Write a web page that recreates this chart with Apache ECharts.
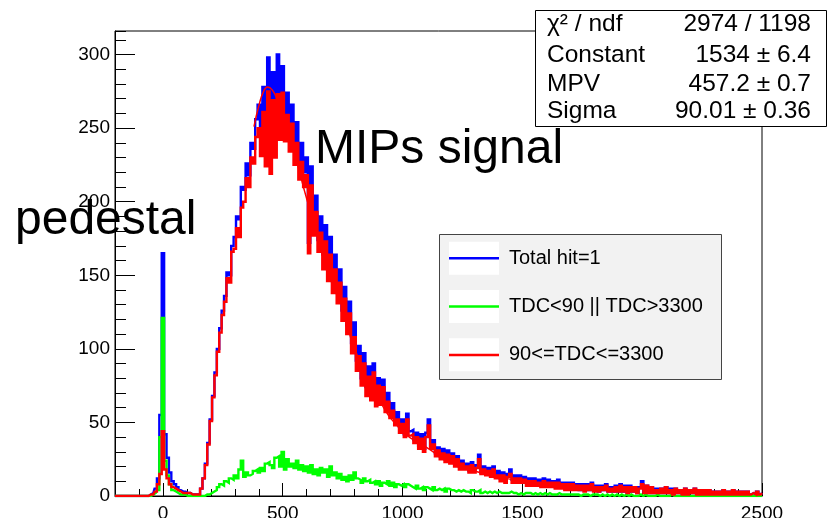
<!DOCTYPE html>
<html><head><meta charset="utf-8">
<script src="https://cdn.jsdelivr.net/npm/echarts@6/dist/echarts.min.js"></script>
<style>html,body{margin:0;padding:0;background:#fff}#c{width:827px;height:518px}</style>
</head><body><div id="c"></div>
<script>
// ---- data (bin centers start at binStart, spaced binWidth) ----
const binStart = -200, binWidth = 10;
const totalHit = [
 0,0,0,0,0,0,0,0,0,0,
 0,0,0,0,0,1,2,5,12,55,
 165,42,26,16,10,8,6,4,3,3,
 2,2,1,1,1,1,5,12,22,36,
 52,68,84,100,114,126,136,152,150,170,
 176,190,188,210,208,226,218,240,236,256,
 266,250,278,246,298,240,288,256,300,262,
 292,252,274,246,266,236,254,226,240,220,
 230,172,224,186,204,174,190,164,184,154,
 176,146,164,138,154,126,142,116,132,104,
 118,92,102,80,97,74,88,70,90,66,
 80,66,79,62,70,57,63,52,57,47,
 52,42,56,44,45,38,43,34,42,32,
 43,52,34,38,29,33,27,32,25,31,
 24,29,22,27,20,24,19,22,17,23,
 18,21,28,16,20,15,19,14,20,13,
 17,12,16,11,15,18,11,14,10,14,
 10,13,9,12,8,12,8,11,7,12,
 7,11,7,10,6,11,6,9,5,9,
 5,9,5,8,4,8,4,8,4,9,
 4,7,3,7,4,8,3,6,3,7,
 3,8,3,7,2,7,3,6,2,6,
 10,3,7,2,6,2,5,2,5,2,
 6,2,5,1,5,2,4,1,5,1,
 4,2,5,1,4,1,4,1,4,1,
 3,1,3,1,4,1,3,1,4,1,
 3,1,3,1,3,1,2,1,3,1,
 2];
const tdcOut = [
 0,0,0,0,0,0,0,0,0,0,
 0,0,0,0,0,0,1,2,4,40,
 121,24,14,8,4,3,2,1,1,1,
 0,0,0,0,0,0,0,0,1,1,
 2,3,4,6,8,7,10,9,12,11,
 14,12,18,24,13,16,14,15,17,18,
 16,19,17,22,23,21,19,26,27,20,
 30,18,25,20,22,19,24,18,21,17,
 20,16,21,15,18,14,19,16,18,13,
 20,14,16,12,15,11,13,10,14,11,
 16,12,11,9,12,10,11,9,10,8,
 10,7,9,8,10,7,9,6,8,7,
 8,6,8,7,6,5,7,5,6,4,
 6,5,4,6,4,5,4,5,3,5,
 4,4,3,4,3,4,3,3,2,4,
 3,3,4,2,3,2,3,2,3,2,
 3,2,2,2,2,3,2,2,1,2,
 1,2,2,2,1,2,1,2,1,2,
 1,2,1,1,1,2,1,1,1,1,
 1,1,1,1,0,1,1,1,0,1,
 1,1,0,1,0,1,0,1,0,1,
 0,1,0,1,0,1,0,0,0,1,
 0,1,0,0,0,0,1,0,0,0,
 0,0,1,0,0,0,0,0,0,0,
 0,0,0,0,0,0,0,0,0,0,
 0,0,0,0,0,0,0,0,0,0,
 0,0,0,0,0,0,0,0,0,0,
 0];
const tdcIn = [
 0,0,0,0,0,0,0,0,0,0,
 0,0,0,0,0,1,1,3,8,15,
 44,18,12,8,6,5,4,3,2,2,
 2,2,1,1,1,1,5,12,21,35,
 51,67,82,98,111,123,132,148,145,166,
 168,182,176,196,200,216,210,230,226,244,
 250,231,261,224,275,219,269,230,273,242,
 274,241,259,234,253,225,240,215,227,210,
 218,165,211,177,193,166,179,154,173,146,
 164,138,154,131,145,119,134,110,124,97,
 108,85,95,75,90,68,81,65,84,61,
 75,62,74,57,64,53,58,48,52,43,
 49,40,52,41,42,36,40,32,39,30,
 40,48,32,35,27,31,25,29,23,28,
 22,27,20,25,18,22,18,20,16,21,
 16,19,25,15,18,14,17,13,18,12,
 14,10,14,9,13,15,9,12,9,12,
 9,11,7,10,7,10,7,9,6,10,
 6,9,6,9,5,9,5,8,4,8,
 4,8,4,7,4,7,3,7,4,8,
 3,6,3,6,4,7,3,5,3,6,
 3,7,3,6,2,6,3,6,2,5,
 8,2,7,2,6,2,4,2,5,2,
 6,2,4,1,5,2,4,1,5,1,
 4,2,5,1,4,1,4,1,4,1,
 3,1,3,1,4,1,3,1,4,1,
 3,1,3,1,3,1,2,1,3,1,
 2];
// Landau fit curve
const fitX = [380,400,420,437,456,475,500,550,600,650,700,750,800,900,1000,1100,1200,1300,1400,1500];
const fitY = [251,265,275,278,276,270,258,232,202,176,152,128,100,66,44,33,23,17,13,10];
const seriesNames = ['Total hit=1', 'TDC<90 || TDC>3300', '90<=TDC<=3300'];
const seriesColors = ['#0000ff', '#00ff00', '#ff0000'];
const xMajorTicks = [0, 500, 1000, 1500, 2000, 2500];
const yMajorTicks = [0, 50, 100, 150, 200, 250, 300];
const statsLabels = ['χ² / ndf', 'Constant', 'MPV', 'Sigma'];
const statsValues = ['2974 / 1198', '1534 ± 6.4', '457.2 ± 0.7', '90.01 ± 0.36'];

// ---- chart ----
const FONT = "'Liberation Sans', Arial, Helvetica, sans-serif";
const toPairs = arr => arr.map((v, i) => [binStart + i * binWidth, v]);
const chart = echarts.init(document.getElementById('c'), null, {renderer: 'canvas'});

function histSeries(idx, values, w) {
  return {
    name: seriesNames[idx], type: 'line', step: 'middle', data: toPairs(values),
    showSymbol: false, symbol: 'none', color: seriesColors[idx],
    lineStyle: {color: seriesColors[idx], width: w, join: 'miter'}, emphasis: {disabled: true},
    clip: true, z: 2
  };
}

const statsRowsY = [24, 55.7, 84.7, 111.7];
const graphics = [
  {type: 'rect', z: 20, shape: {x: 535.5, y: 10.5, width: 291, height: 116},
   style: {fill: '#fff', stroke: '#000', lineWidth: 1}},
  {type: 'rect', z: 1, shape: {x: 439.5, y: 234.5, width: 282, height: 145},
   style: {fill: '#f2f2f2', stroke: '#444', lineWidth: 1}},
  {type: 'text', z: 20, x: 15, y: 220.5,
   style: {text: 'pedestal', font: '48px ' + FONT, fill: '#000', textVerticalAlign: 'middle', verticalAlign: 'middle'}},
  {type: 'text', z: 20, x: 315, y: 150,
   style: {text: 'MIPs signal', font: '48px ' + FONT, fill: '#000', textVerticalAlign: 'middle', verticalAlign: 'middle'}}
];
[241.7, 290, 338.3].forEach(y => graphics.push({type: 'rect', z: 1.5, shape: {x: 449, y: y, width: 50, height: 33}, style: {fill: '#fff'}}));
statsLabels.forEach((t, i) => {
  graphics.push({type: 'text', z: 21, x: 547, y: statsRowsY[i],
    style: {text: t, font: '24.5px ' + FONT, fill: '#000', verticalAlign: 'middle', textVerticalAlign: 'middle'}});
  graphics.push({type: 'text', z: 21, x: 811, y: statsRowsY[i],
    style: {text: statsValues[i], font: '24.5px ' + FONT, fill: '#000', align: 'right', textAlign: 'right', verticalAlign: 'middle', textVerticalAlign: 'middle'}});
});

const labelStyle = {fontSize: 19, color: '#000', fontFamily: FONT, formatter: v => String(v)};
chart.setOption({
  animation: false,
  backgroundColor: '#fff',
  grid: {left: 115, top: 31, width: 647, height: 465, show: true, borderColor: '#000', borderWidth: 1,
         containLabel: false, outerBoundsMode: 'none'},
  xAxis: [
    {type: 'value', min: -200, max: 2500, interval: 100, position: 'bottom',
     axisLine: {show: true, onZero: false, lineStyle: {color: '#000', width: 1}},
     axisTick: {show: true, inside: true, length: 7, lineStyle: {color: '#000', width: 1}},
     axisLabel: Object.assign({show: true, margin: 8, customValues: xMajorTicks, hideOverlap: false}, labelStyle),
     splitLine: {show: false}},
    {type: 'value', min: -200, max: 2500, position: 'bottom',
     axisLine: {show: false, onZero: false},
     axisTick: {show: true, inside: true, length: 13, customValues: xMajorTicks, lineStyle: {color: '#000', width: 1}},
     axisLabel: {show: false}, splitLine: {show: false}}
  ],
  yAxis: [
    {type: 'value', min: 0, max: 316, interval: 10, position: 'left',
     axisLine: {show: true, onZero: false, lineStyle: {color: '#000', width: 1}},
     axisTick: {show: true, inside: true, length: 11, lineStyle: {color: '#000', width: 1}},
     axisLabel: Object.assign({show: true, margin: 5, customValues: yMajorTicks, hideOverlap: false}, labelStyle),
     splitLine: {show: false}},
    {type: 'value', min: 0, max: 316, position: 'left',
     axisLine: {show: false, onZero: false},
     axisTick: {show: true, inside: true, length: 20, customValues: yMajorTicks, lineStyle: {color: '#000', width: 1}},
     axisLabel: {show: false}, splitLine: {show: false}}
  ],
  legend: {
    show: true, orient: 'vertical', left: 449, top: 246.3, padding: 0, itemGap: 24.3,
    itemWidth: 50, itemHeight: 2.5, icon: 'rect', selectedMode: false, z: 5,
    data: seriesNames,
    textStyle: {fontSize: 20, fontFamily: FONT, color: '#000', lineHeight: 24, padding: [0, 0, 0, 5]}
  },
  graphic: {elements: graphics},
  series: [
    histSeries(0, totalHit, 2.4),
    {name: 'Landau fit', type: 'line', smooth: true, data: fitX.map((x, i) => [x, fitY[i]]),
     showSymbol: false, symbol: 'none', color: '#ff0000', lineStyle: {color: '#ff0000', width: 1.5},
     emphasis: {disabled: true}, clip: true, z: 2},
    histSeries(1, tdcOut, 2.4),
    histSeries(2, tdcIn, 2.4)
  ]
});
</script></body></html>
